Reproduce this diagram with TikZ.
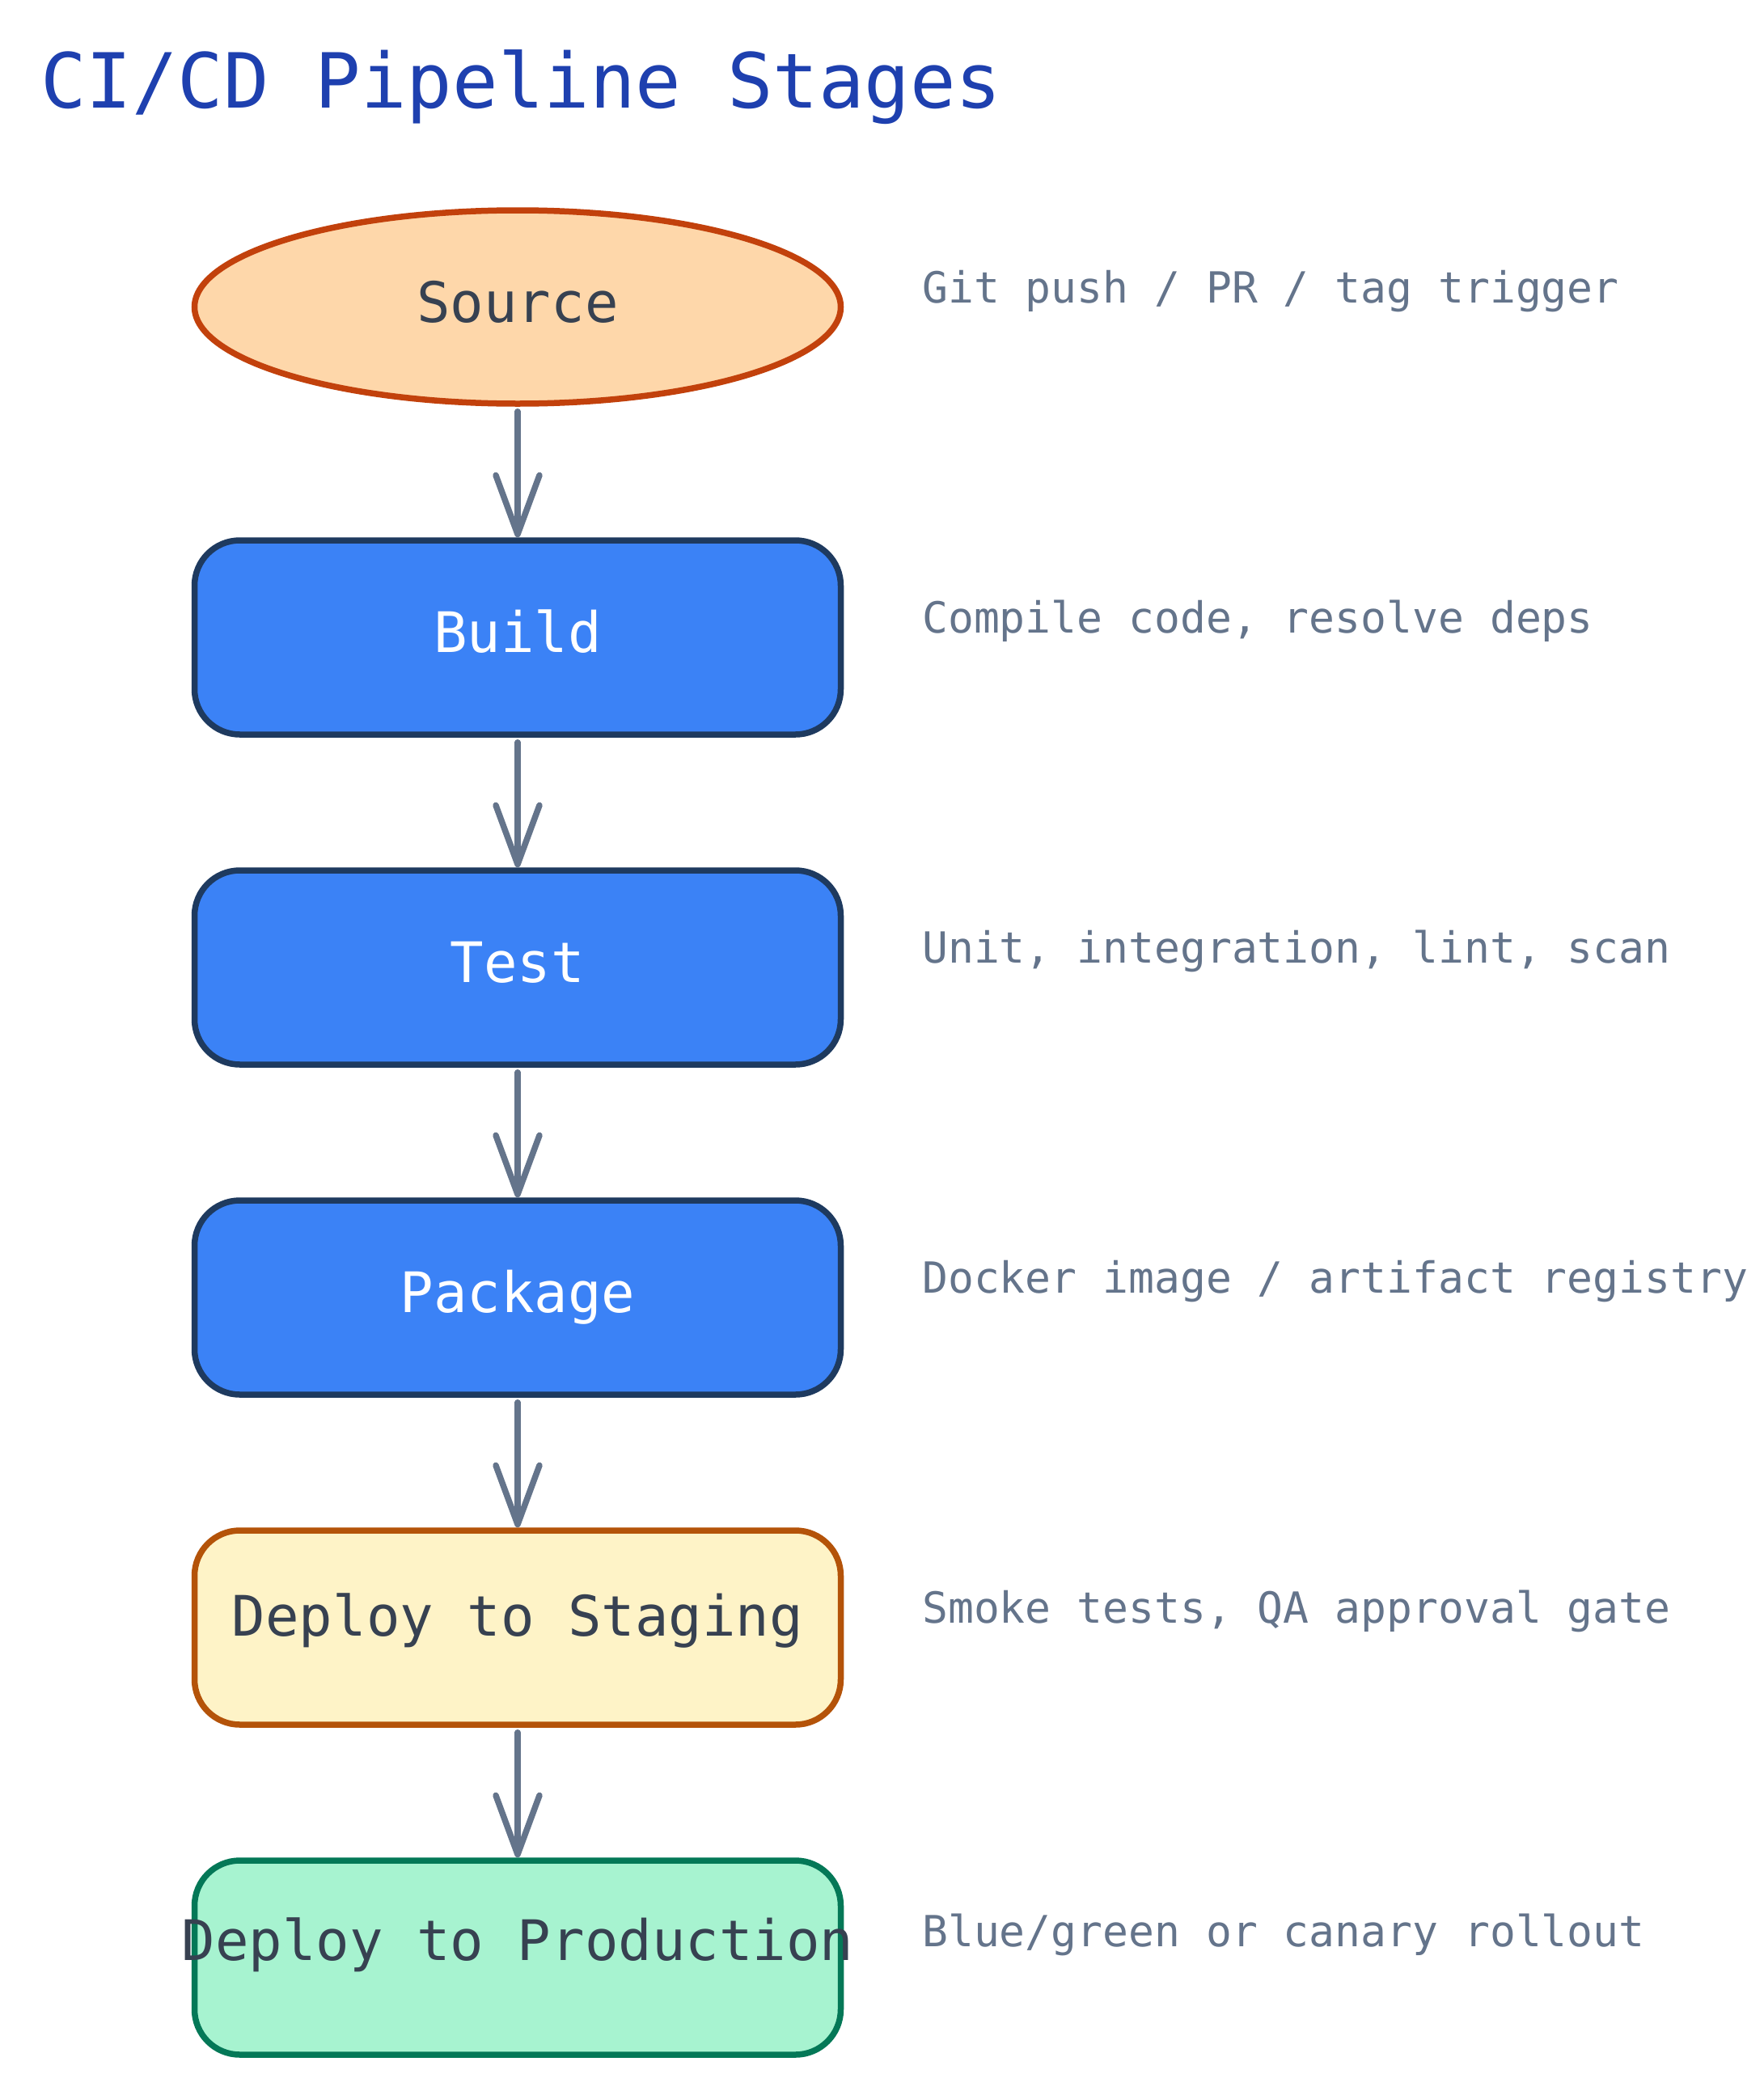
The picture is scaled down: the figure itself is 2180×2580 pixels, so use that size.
\documentclass[tikz,border=0pt]{standalone}
\usepackage{fontspec}
\setmainfont{DejaVu Sans Mono}
\usetikzlibrary{shapes.geometric,arrows.meta}
\definecolor{ctitle}{HTML}{1E40AF}
\definecolor{cnote}{HTML}{64748B}
\definecolor{carrow}{HTML}{64748B}
\definecolor{cdark}{HTML}{374151}
\definecolor{srcfill}{HTML}{FED7AA}
\definecolor{srcdraw}{HTML}{C2410C}
\definecolor{bluefill}{HTML}{3B82F6}
\definecolor{bluedraw}{HTML}{1E3A5F}
\definecolor{stgfill}{HTML}{FEF3C7}
\definecolor{stgdraw}{HTML}{B45309}
\definecolor{prdfill}{HTML}{A7F3D0}
\definecolor{prddraw}{HTML}{047857}
\begin{document}
\begin{tikzpicture}[x=1pt,y=-1pt,
  stagebox/.style={rectangle, draw, line width=7.5pt, rounded corners=56pt,
    minimum width=799pt, minimum height=240pt, inner sep=0pt,
    font=\fontsize{69}{80}\selectfont, text depth=0pt, text height=36pt},
  srcshape/.style={ellipse, draw=srcdraw, fill=srcfill, line width=7.5pt,
    minimum width=799pt, minimum height=239pt, inner sep=0pt, text=cdark,
    font=\fontsize{69}{80}\selectfont, text depth=0pt, text height=37pt},
  bluebox/.style={stagebox, draw=bluedraw, fill=bluefill, text=white},
  stgbox/.style={stagebox, draw=stgdraw, fill=stgfill, text=cdark},
  prdbox/.style={stagebox, draw=prddraw, fill=prdfill, text=cdark},
  note/.style={anchor=base west, inner sep=0pt, text=cnote,
    font=\fontsize{53}{64}\selectfont},
  flow/.style={draw=carrow, line width=7.5pt, line cap=round, shorten <=6pt,
    -{Straight Barb[length=73pt, width=54pt, line cap=round, line join=round]}}
]
\useasboundingbox[fill=white] (0,0) rectangle (2180,2580);

\node[anchor=base west, inner sep=0pt, text=ctitle,
  font=\fontsize{94}{110}\selectfont] (title) at (50,133) {CI/CD Pipeline Stages};

\node[srcshape] (src) at (640,379.5) {Source};
\node[bluebox] (build) at (640,788) {Build};
\node[bluebox] (test) at (640,1196) {Test};
\node[bluebox] (pkg) at (640,1604) {Package};
\node[stgbox, text height=20pt] (stg) at (640,2012) {Deploy to Staging};
\node[prdbox, text height=6pt] (prd) at (640,2420) {\makebox[0pt]{Deploy to Production}};

\node[note] (n1) at (1140,374) {Git push / PR / tag trigger};
\node[note] (n2) at (1140,782) {Compile code, resolve deps};
\node[note] (n3) at (1140,1190) {Unit, integration, lint, scan};
\node[note] (n4) at (1140,1598) {Docker image / artifact registry};
\node[note] (n5) at (1140,2006) {Smoke tests, QA approval gate};
\node[note] (n6) at (1140,2406) {Blue/green or canary rollout};

\draw[flow] (src) -- (build);
\draw[flow] (build) -- (test);
\draw[flow] (test) -- (pkg);
\draw[flow] (pkg) -- (stg);
\draw[flow] (stg) -- (prd);
\end{tikzpicture}
\end{document}
